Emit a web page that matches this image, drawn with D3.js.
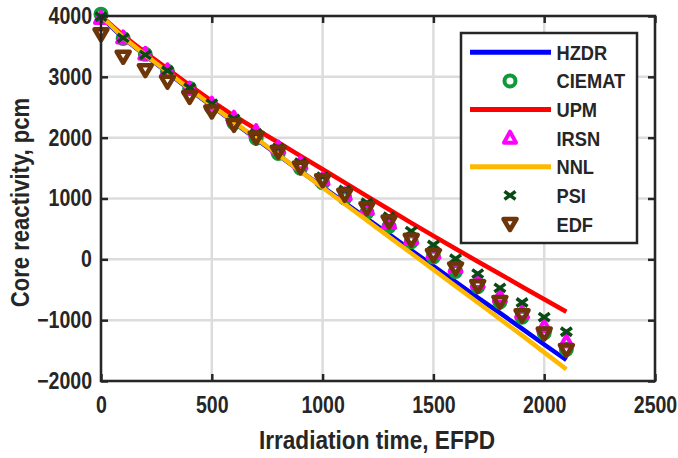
<!DOCTYPE html>
<html><head><meta charset="utf-8">
<script src="https://cdn.jsdelivr.net/npm/d3@7/dist/d3.min.js"></script>
<style>
body{margin:0;background:#fff;}
text{font-family:"Liberation Sans",Arial,sans-serif;font-weight:bold;fill:#262626;}
</style>
</head><body>
<svg id="c" width="678" height="458"></svg>
<script>
// ---------- data ----------
const days = [0,100,200,300,400,500,600,700,800,900,1000,1100,1200,1300,1400,1500,1600,1700,1800,1900,2000,2100];
const hzdr   = [3980,3640,3350,3070,2790,2520,2250,1980,1710,1450,1190,930,670,410,150,-110,-370,-630,-880,-1140,-1400,-1655];
const ciemat = [4030,3630,3370,3090,2810,2490,2240,1990,1740,1500,1260,1010,770,540,290,40,-200,-450,-700,-950,-1210,-1480];
const upm    = [4000,3680,3400,3130,2860,2600,2360,2140,1920,1700,1480,1260,1040,820,600,385,175,-35,-240,-450,-655,-861];
const irsn   = [3960,3640,3370,3100,2800,2550,2320,2100,1830,1570,1310,1060,820,590,340,100,-130,-380,-620,-880,-1110,-1360];
const nnl    = [4000,3650,3360,3080,2800,2530,2260,1990,1720,1450,1180,910,640,370,100,-170,-440,-710,-980,-1250,-1530,-1808];
const psi    = [3990,3640,3360,3100,2820,2560,2310,2070,1830,1590,1360,1140,930,700,465,235,10,-235,-470,-710,-950,-1190];
const edf    = [3700,3330,3110,2920,2670,2430,2210,2000,1770,1510,1300,1060,840,620,320,70,-150,-440,-700,-920,-1220,-1490];
const xTicks = [0,500,1000,1500,2000,2500];
const yTicks = [-2000,-1000,0,1000,2000,3000,4000];
const legendNames = ["HZDR","CIEMAT","UPM","IRSN","NNL","PSI","EDF"];

// ---------- layout ----------
const L=101, R=655, T=16, B=381;
const svg = d3.select("#c");
const x = d3.scaleLinear().domain([0,2500]).range([L,R]);
const y = d3.scaleLinear().domain([-2000,4000]).range([B,T]);
const SX = 0.85;
const axisCol = "#262626";

// grid
const grid = svg.append("g");
grid.selectAll(".gx").data(xTicks).join("line")
  .attr("x1",d=>x(d)).attr("x2",d=>x(d)).attr("y1",T).attr("y2",B)
  .attr("stroke","#dcdcdc").attr("stroke-width",2.5);
grid.selectAll(".gy").data(yTicks).join("line")
  .attr("y1",d=>y(d)).attr("y2",d=>y(d)).attr("x1",L).attr("x2",R)
  .attr("stroke","#dcdcdc").attr("stroke-width",2.5);

// markers
const shapes = {
  circle: "M5.5,0A5.5,5.5 0 1,1 -5.5,0A5.5,5.5 0 1,1 5.5,0Z",
  up: "M0,-6.5L6,4.5L-6,4.5Z",
  down: "M0,6L6.5,-5L-6.5,-5Z",
  x: "M-5.5,-4L5.5,4M5.5,-4L-5.5,4"
};
const series = [
  {name:"HZDR", vals:hzdr, type:"line", color:"#0000ff"},
  {name:"CIEMAT", vals:ciemat, type:"marker", shape:"circle", color:"#0f9a3a", sw:4},
  {name:"UPM", vals:upm, type:"line", color:"#ff0000"},
  {name:"IRSN", vals:irsn, type:"marker", shape:"up", color:"#ff00ff", sw:4},
  {name:"NNL", vals:nnl, type:"line", color:"#ffb800"},
  {name:"PSI", vals:psi, type:"marker", shape:"x", color:"#0a4a14", sw:3.5},
  {name:"EDF", vals:edf, type:"marker", shape:"down", color:"#6e3508", sw:4.5}
];
const line = d3.line().x(d=>x(d[0])).y(d=>y(d[1]));
const plot = svg.append("g");
series.forEach(s=>{
  const pts = days.map((d,i)=>[d,s.vals[i]]);
  if(s.type==="line"){
    plot.append("path").datum(pts).attr("d",line).attr("fill","none")
      .attr("stroke",s.color).attr("stroke-width",4.5);
  } else {
    plot.append("g").selectAll("path").data(pts).join("path")
      .attr("transform",d=>`translate(${x(d[0])},${y(d[1])})`)
      .attr("d",shapes[s.shape]).attr("fill","none")
      .attr("stroke",s.color).attr("stroke-width",s.sw).attr("stroke-linejoin","round");
  }
});

// axes
const ax = svg.append("g");
const axB = ax.append("g").attr("transform",`translate(0,${B})`)
  .call(d3.axisBottom(x).tickValues(xTicks).tickSize(-7).tickPadding(15.5).tickFormat(d3.format("d")));
const axL = ax.append("g").attr("transform",`translate(${L},0)`)
  .call(d3.axisLeft(y).tickValues(yTicks).tickSize(-7).tickPadding(9).tickFormat(d3.format("d")));
ax.append("g").attr("transform",`translate(0,${T})`)
  .call(d3.axisTop(x).tickValues(xTicks).tickSize(-7).tickFormat(""));
ax.append("g").attr("transform",`translate(${R},0)`)
  .call(d3.axisRight(y).tickValues(yTicks).tickSize(-7).tickFormat(""));
ax.selectAll(".domain").remove();
ax.selectAll(".tick line").attr("stroke",axisCol).attr("stroke-width",2.5);
[axB,axL].forEach(g=>g.selectAll(".tick text")
  .attr("font-size",23).attr("fill",axisCol)
  .style("font-family",'"Liberation Sans",Arial,sans-serif').style("font-weight","bold"));
axB.selectAll(".tick text").attr("transform",`scale(${SX},1)`);
axL.selectAll(".tick text").each(function(){
  const t=d3.select(this); const xx=+t.attr("x");
  t.attr("x",0).attr("transform",`translate(${xx},0) scale(${SX},1)`);
});
svg.append("rect").attr("x",L).attr("y",T).attr("width",R-L).attr("height",B-T)
  .attr("fill","none").attr("stroke",axisCol).attr("stroke-width",2.5);

// axis labels
svg.append("text").attr("transform",`translate(${(L+R)/2-1},449) scale(0.87,1)`)
  .attr("text-anchor","middle").attr("font-size",26).text("Irradiation time, EFPD");
svg.append("text").attr("transform",`translate(28.5,202.5) rotate(-90) scale(0.85,1)`)
  .attr("text-anchor","middle").attr("font-size",26).text("Core reactivity, pcm");

// legend
const lg = svg.append("g");
lg.append("rect").attr("x",461).attr("y",33).attr("width",176).attr("height",210)
  .attr("fill","#fff").attr("stroke",axisCol).attr("stroke-width",2.5);
const rowY = d3.scalePoint().domain(legendNames).range([52.3,224]);
series.forEach(s=>{
  const yy = rowY(s.name);
  if(s.type==="line"){
    lg.append("line").attr("x1",470).attr("x2",551).attr("y1",yy).attr("y2",yy)
      .attr("stroke",s.color).attr("stroke-width",5);
  } else {
    lg.append("path").attr("transform",`translate(510,${yy})`).attr("d",shapes[s.shape])
      .attr("fill","none").attr("stroke",s.color).attr("stroke-width",s.sw).attr("stroke-linejoin","round");
  }
  lg.append("text").attr("transform",`translate(556.5,${yy+7.5}) scale(0.87,1)`)
    .attr("font-size",21).attr("fill","#000").text(s.name);
});
</script>
</body></html>
